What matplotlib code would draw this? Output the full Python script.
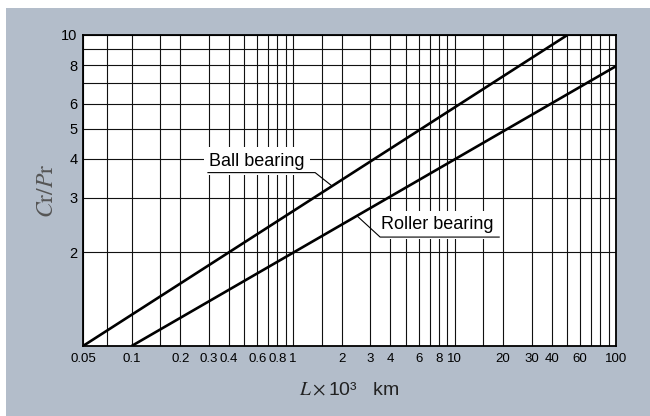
import matplotlib
matplotlib.use("Agg")
import matplotlib.pyplot as plt
from matplotlib.patches import Rectangle

plt.rcParams['font.family'] = ['Liberation Sans', 'DejaVu Sans']
plt.rcParams['mathtext.fontset'] = 'stix'

# Life lines (log-log straight lines, end points)
ball_L = [0.05, 50]
ball_ratio = [1.0, 10.0]
roller_L = [0.1, 100]
roller_ratio = [1.0, 7.94]

# Grid positions and tick labels
x_grid = [0.05, 0.07, 0.1, 0.15, 0.2, 0.3, 0.4, 0.5, 0.6, 0.7, 0.8, 0.9,
          1, 1.5, 2, 3, 4, 5, 6, 7, 8, 9, 10, 15, 20, 30, 40, 50, 60, 70, 80, 90, 100]
x_labeled = {0.05: '0.05', 0.1: '0.1', 0.2: '0.2', 0.3: '0.3', 0.4: '0.4', 0.6: '0.6',
             0.8: '0.8', 1: '1', 2: '2', 3: '3', 4: '4', 6: '6', 8: '8', 10: '10',
             20: '20', 30: '30', 40: '40', 60: '60', 100: '100'}
y_grid = [2, 3, 4, 5, 6, 7, 8, 9, 10]
y_labeled = {2: '2', 3: '3', 4: '4', 5: '5', 6: '6', 8: '8', 10: '10'}

# Label text positions and leader lines (data coords)
ball_text_xy = (0.60, 3.93)
ball_leader = ([0.297, 1.37, 1.743], [3.61, 3.61, 3.27])
roller_text_xy = (7.8, 2.45)
roller_leader = ([18.9, 3.46, 2.49], [2.24, 2.24, 2.62])

fig = plt.figure(figsize=(6.5, 4.16), dpi=100, facecolor='white')
fig.add_artist(Rectangle((6 / 650, 0), 1, 1 - 8 / 416, transform=fig.transFigure,
                         facecolor='#B3BDCA', edgecolor='none', zorder=-10))

ax = fig.add_axes([83 / 650, 1 - 346 / 416, 533 / 650, 311 / 416])
ax.set_facecolor('white')
ax.set_xscale('log')
ax.set_yscale('log')
ax.set_xlim(0.05, 100)
ax.set_ylim(1, 10)

ax.set_xticks(x_grid)
ax.set_xticklabels([x_labeled.get(v, '') for v in x_grid])
ax.set_yticks(y_grid)
ax.set_yticklabels([y_labeled.get(v, '') for v in y_grid])
ax.minorticks_off()
ax.tick_params(axis='x', length=0, pad=5, labelsize=9.5)
ax.tick_params(axis='y', length=0, pad=4, labelsize=10.5)
ax.set_axisbelow(True)
ax.grid(True, color='#111111', linewidth=0.8)
for s in ax.spines.values():
    s.set_linewidth(1.3)
    s.set_color('black')

ax.plot(ball_L, ball_ratio, color='black', linewidth=1.9, zorder=4, solid_capstyle='butt')
ax.plot(roller_L, roller_ratio, color='black', linewidth=1.9, zorder=4, solid_capstyle='butt')

box = dict(facecolor='white', edgecolor='none', boxstyle='square,pad=0.3')
ax.text(*ball_text_xy, 'Ball bearing', fontsize=13, ha='center', va='center',
        bbox=box, zorder=3)
ax.text(*roller_text_xy, 'Roller bearing', fontsize=13, ha='center', va='center',
        bbox=box, zorder=3)
ax.plot(*ball_leader, color='black', linewidth=0.8, zorder=4)
ax.plot(*roller_leader, color='black', linewidth=0.8, zorder=4)

ax.set_xlabel(r'$L\times$10³   km', fontsize=14, color='#222222')
ax.xaxis.set_label_coords(0.5, -(390 - 346) / 311)
ax.xaxis.label.set_va('center')
ax.set_ylabel(r'$C\mathrm{r}/P\mathrm{r}$', fontsize=17, color='#555555')
ax.yaxis.set_label_coords(-(83 - 47) / 533, 0.5)
ax.yaxis.label.set_va('center')

fig.savefig('out.png', dpi=100, facecolor='white')
